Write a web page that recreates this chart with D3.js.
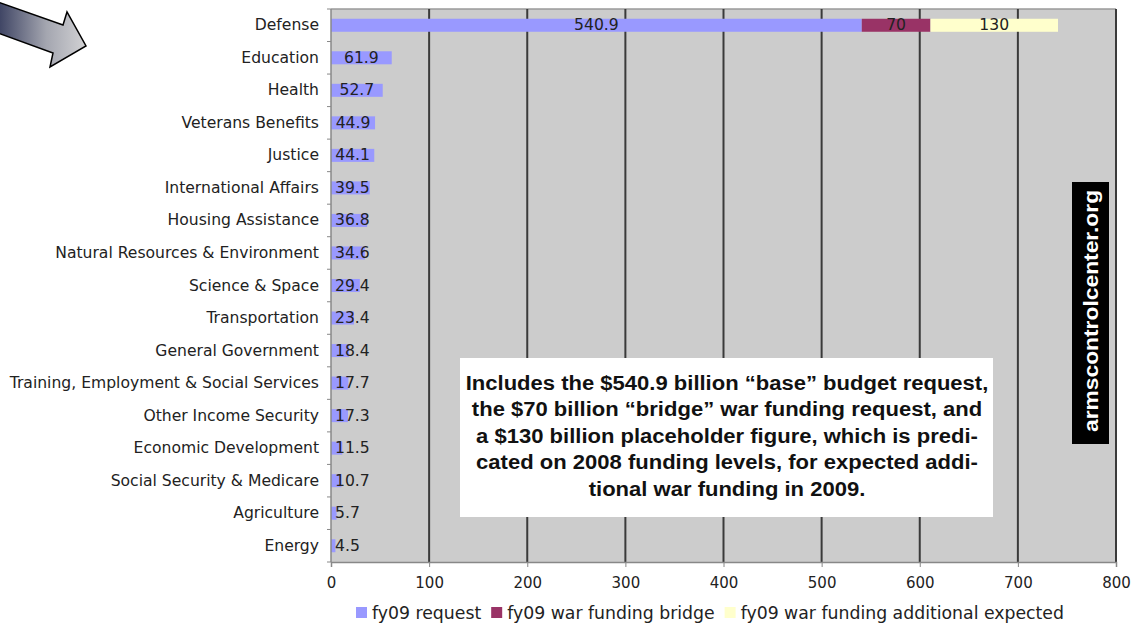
<!DOCTYPE html>
<html>
<head>
<meta charset="utf-8">
<script src="https://cdn.jsdelivr.net/npm/d3@7"></script>
<style>
  body { margin: 0; background: #fff; }
  svg { display: block; }
</style>
</head>
<body>
<svg id="chart" width="1131" height="625"></svg>
<script>
// budget categories, top to bottom
const categories = [
    'Defense', 'Education', 'Health', 'Veterans Benefits', 'Justice',
    'International Affairs', 'Housing Assistance', 'Natural Resources & Environment',
    'Science & Space', 'Transportation', 'General Government',
    'Training, Employment & Social Services', 'Other Income Security',
    'Economic Development', 'Social Security & Medicare', 'Agriculture', 'Energy'
];
const fy09Request = [540.9, 61.9, 52.7, 44.9, 44.1, 39.5, 36.8, 34.6, 29.4, 23.4, 18.4, 17.7, 17.3, 11.5, 10.7, 5.7, 4.5];
const warBridge = [70, 0, 0, 0, 0, 0, 0, 0, 0, 0, 0, 0, 0, 0, 0, 0, 0];
const warAdditional = [130, 0, 0, 0, 0, 0, 0, 0, 0, 0, 0, 0, 0, 0, 0, 0, 0];
const seriesNames = ['fy09 request', 'fy09 war funding bridge', 'fy09 war funding additional expected'];
const xTicks = [0, 100, 200, 300, 400, 500, 600, 700, 800];
const noteLines = [
    'Includes the $540.9 billion \u201cbase\u201d budget request,',
    'the $70 billion \u201cbridge\u201d war funding request, and',
    'a $130 billion placeholder figure, which is predi-',
    'cated on 2008 funding levels, for expected addi-',
    'tional war funding in 2009.'
];
const watermark = 'armscontrolcenter.org';

const COLORS = ['#9999ff', '#993366', '#ffffcc'];
const FONT = 'DejaVu Sans, Verdana, sans-serif';
const BOLD_FONT = 'Liberation Sans, Arial, sans-serif';

const svg = d3.select('#chart');
const plot = { left: 331, right: 1116, top: 9, bottom: 562 };

const x = d3.scaleLinear().domain([0, 800]).range([plot.left, plot.right]);
const y = d3.scaleBand().domain(categories).range([plot.top, plot.bottom]).padding(0);
const barH = y.bandwidth() * 0.4;

// stacked rows
const rows = categories.map((c, i) => ({ cat: c, values: [fy09Request[i], warBridge[i], warAdditional[i]] }));
const stacked = d3.stack().keys([0, 1, 2]).value((d, k) => d.values[k])(rows);

// defs: arrow gradient
const defs = svg.append('defs');
const grad = defs.append('linearGradient')
    .attr('id', 'arrowGrad')
    .attr('x1', '0%').attr('y1', '0%')
    .attr('x2', '100%').attr('y2', '0%');
grad.append('stop').attr('offset', '0%').style('stop-color', '#3c4262');
grad.append('stop').attr('offset', '55%').style('stop-color', '#a4a6b0');
grad.append('stop').attr('offset', '100%').style('stop-color', '#d2d2d4');

// plot background
svg.append('rect')
    .attr('x', plot.left).attr('y', plot.top)
    .attr('width', plot.right - plot.left).attr('height', plot.bottom - plot.top)
    .attr('fill', '#cccccc');

// top border
svg.append('line')
    .attr('x1', plot.left).attr('x2', plot.right)
    .attr('y1', plot.top).attr('y2', plot.top)
    .attr('stroke', '#9a9a9a').attr('stroke-width', 1.5);

// vertical gridlines
svg.append('g').selectAll('line')
    .data(xTicks.filter(t => t > 0))
    .join('line')
    .attr('x1', d => x(d)).attr('x2', d => x(d))
    .attr('y1', plot.top).attr('y2', plot.bottom)
    .attr('stroke', '#3a3a3a').attr('stroke-width', 2);

// bars
const layers = svg.append('g').selectAll('g')
    .data(stacked)
    .join('g')
    .attr('fill', (d, i) => COLORS[i]);

layers.selectAll('rect')
    .data(d => d.map((s, i) => ({ s, cat: categories[i] })).filter(o => o.s[1] > o.s[0]))
    .join('rect')
    .attr('x', d => x(d.s[0]))
    .attr('y', d => y(d.cat) + (y.bandwidth() - barH) / 2)
    .attr('width', d => x(d.s[1]) - x(d.s[0]))
    .attr('height', barH);

// value labels: centred in segment, pushed right when bar is too short
const labelG = svg.append('g')
    .attr('font-family', FONT).attr('font-size', 15.6).attr('fill', '#222');
stacked.forEach(layer => {
    layer.forEach((s, i) => {
        const v = +(s[1] - s[0]).toFixed(1);
        if (v <= 0) return;
        const x0 = x(s[0]), x1 = x(s[1]);
        const t = labelG.append('text')
            .attr('y', y(categories[i]) + y.bandwidth() / 2)
            .attr('dominant-baseline', 'central')
            .attr('text-anchor', 'middle')
            .text(v);
        const w = t.node().getComputedTextLength();
        let cx = (x0 + x1) / 2;
        if (cx - w / 2 < x0 + 4) cx = x0 + 4 + w / 2;
        t.attr('x', cx);
    });
});

// y axis (category labels + ticks at band edges)
const yAxis = svg.append('g');
yAxis.append('line')
    .attr('x1', plot.left).attr('x2', plot.left)
    .attr('y1', plot.top).attr('y2', plot.bottom)
    .attr('stroke', '#888').attr('stroke-width', 1.5);
yAxis.selectAll('line.tick')
    .data(d3.range(categories.length + 1))
    .join('line')
    .attr('class', 'tick')
    .attr('x1', plot.left - 4).attr('x2', plot.left)
    .attr('y1', i => plot.top + i * y.step()).attr('y2', i => plot.top + i * y.step())
    .attr('stroke', '#888');
yAxis.selectAll('text')
    .data(categories)
    .join('text')
    .attr('x', plot.left - 12)
    .attr('y', d => y(d) + y.bandwidth() / 2)
    .attr('text-anchor', 'end')
    .attr('dominant-baseline', 'central')
    .attr('font-family', FONT).attr('font-size', 15.6)
    .attr('fill', '#222')
    .text(d => d);

// x axis
const xAxis = svg.append('g')
    .attr('transform', `translate(0,${plot.bottom})`)
    .call(d3.axisBottom(x).tickValues(xTicks).tickSize(5).tickPadding(10).tickFormat(d3.format('d')));
xAxis.select('.domain').attr('stroke', '#888').attr('stroke-width', 1.5);
xAxis.selectAll('.tick line').attr('stroke', '#888');
xAxis.selectAll('.tick text')
    .attr('font-family', FONT).attr('font-size', 15).attr('fill', '#222');

// legend
const legend = svg.append('g').attr('font-family', FONT).attr('font-size', 17.3);
let lx = 356;
seriesNames.forEach((name, i) => {
    legend.append('rect')
        .attr('x', lx).attr('y', 607)
        .attr('width', 11).attr('height', 11)
        .attr('fill', COLORS[i]);
    const t = legend.append('text')
        .attr('x', lx + 16).attr('y', 613)
        .attr('dominant-baseline', 'central')
        .attr('fill', '#222')
        .text(name);
    lx += 16 + t.node().getComputedTextLength() + 10;
});

// note box
svg.append('rect')
    .attr('x', 460).attr('y', 358)
    .attr('width', 533).attr('height', 159)
    .attr('fill', '#ffffff');
svg.append('g')
    .attr('transform', 'translate(727,0) scale(1.13,1)')
    .attr('font-family', BOLD_FONT)
    .attr('font-weight', 'bold').attr('font-size', 19.5)
    .attr('fill', '#111').attr('text-anchor', 'middle')
    .selectAll('text')
    .data(noteLines)
    .join('text')
    .attr('x', 0)
    .attr('y', (d, i) => 390 + i * 26.5)
    .text(d => d);

// watermark
svg.append('rect')
    .attr('x', 1072).attr('y', 182)
    .attr('width', 37).attr('height', 262)
    .attr('fill', '#000');
svg.append('text')
    .attr('transform', 'translate(1098,311) rotate(-90) scale(1.17,1)')
    .attr('text-anchor', 'middle')
    .attr('font-family', BOLD_FONT)
    .attr('font-weight', 'bold').attr('font-size', 19.5)
    .attr('fill', '#fff')
    .text(watermark);

// arrow
svg.append('polygon')
    .attr('points', [[-2, 2], [63, 25], [67, 12], [86, 46], [50, 67], [53, 53], [-2, 33]].map(p => p.join(',')).join(' '))
    .attr('fill', 'url(#arrowGrad)')
    .attr('stroke', '#000').attr('stroke-width', 1.5)
    .attr('stroke-linejoin', 'miter');
</script>
</body>
</html>
